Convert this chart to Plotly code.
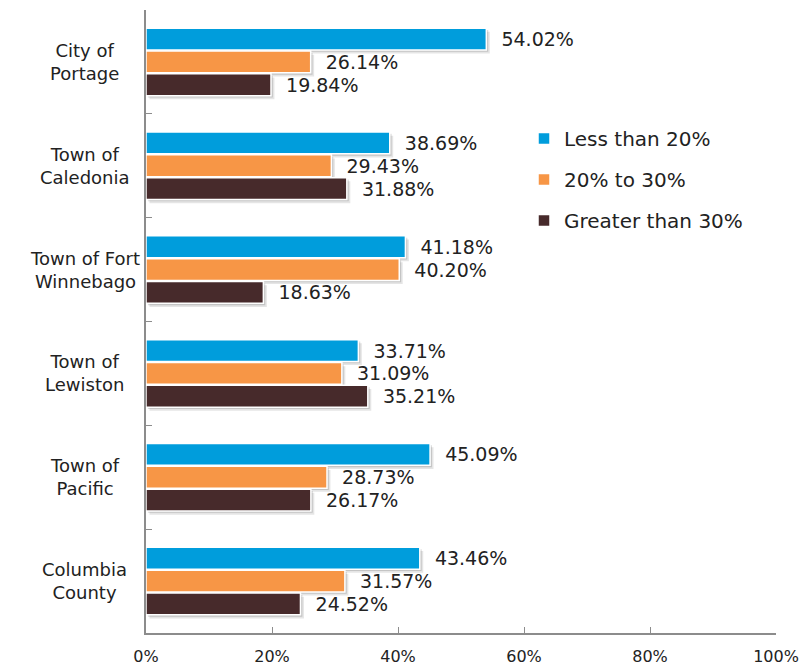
import plotly.graph_objects as go

# Share of households by housing cost as a percentage of income
categories = [
    "City of<br>Portage",
    "Town of<br>Caledonia",
    "Town of Fort<br>Winnebago",
    "Town of<br>Lewiston",
    "Town of<br>Pacific",
    "Columbia<br>County",
]
series_names = ["Less than 20%", "20% to 30%", "Greater than 30%"]
less_than_20 = [54.02, 38.69, 41.18, 33.71, 45.09, 43.46]
from_20_to_30 = [26.14, 29.43, 40.20, 31.09, 28.73, 31.57]
greater_than_30 = [19.84, 31.88, 18.63, 35.21, 26.17, 24.52]
x_ticks = [0, 20, 40, 60, 80, 100]
x_tick_labels = [f"{v}%" for v in x_ticks]

series_values = [less_than_20, from_20_to_30, greater_than_30]
colors = ["#009DDC", "#F79646", "#472A2B"]
offsets = [-0.325, -0.105, 0.115]
bar_w = 0.21

FONT = "DejaVu Sans"
fig = go.Figure()

# soft drop shadows behind each bar
for vals, off in zip(series_values, offsets):
    for dx, dy, alpha in [(0.55, 0.035, 0.10), (0.3, 0.018, 0.14)]:
        fig.add_trace(go.Bar(
            y=categories, x=vals, base=dx, orientation="h",
            offset=off + dy, width=bar_w,
            marker=dict(color=f"rgba(0,0,0,{alpha})", line=dict(width=0)),
            showlegend=False, hoverinfo="skip",
        ))

for name, vals, col, off, i in zip(series_names, series_values, colors, offsets, range(3)):
    fig.add_trace(go.Bar(
        y=categories, x=vals, orientation="h", name=name,
        offset=off, width=bar_w,
        marker=dict(color=col, line=dict(color="white", width=1.5)),
        texttemplate="\u00a0\u00a0%{x:.2f}%", textposition="outside",
        textfont=dict(family=FONT, size=19, color="#222222"),
        constraintext="none", cliponaxis=False,
        legendgroup=f"g{i}",
    ))

# centred two-line category labels
for c in categories:
    fig.add_annotation(
        x=-0.097, xref="paper", y=c, yref="y", text=c, showarrow=False,
        xanchor="center", yanchor="middle", align="center",
        font=dict(family=FONT, size=18, color="#222222"),
    )

fig.update_layout(
    width=801, height=671,
    margin=dict(l=146, r=25, t=10, b=38, autoexpand=False),
    paper_bgcolor="white", plot_bgcolor="white",
    barmode="overlay",
    font=dict(family=FONT, color="#222222"),
    legend=dict(
        x=0.6, y=0.825, xanchor="left", yanchor="top",
        font=dict(family=FONT, size=20, color="#222222"),
        tracegroupgap=12, traceorder="grouped",
        bgcolor="rgba(0,0,0,0)",
    ),
    xaxis=dict(
        range=[0, 100], tickvals=x_ticks, ticktext=x_tick_labels,
        showgrid=False, zeroline=False, automargin=False,
        showline=True, linecolor="#8C8C8C", linewidth=1.5,
        ticks="inside", ticklen=6, tickcolor="#8C8C8C",
        tickfont=dict(family=FONT, size=16, color="#222222"),
        ticklabelstandoff=8,
    ),
    yaxis=dict(
        type="category", autorange="reversed", automargin=False,
        showticklabels=False, showgrid=False, zeroline=False,
        showline=True, linecolor="#8C8C8C", linewidth=1.5,
        ticks="inside", ticklen=6, tickcolor="#8C8C8C", tickson="boundaries",
    ),
)

fig.write_html("out.html")
